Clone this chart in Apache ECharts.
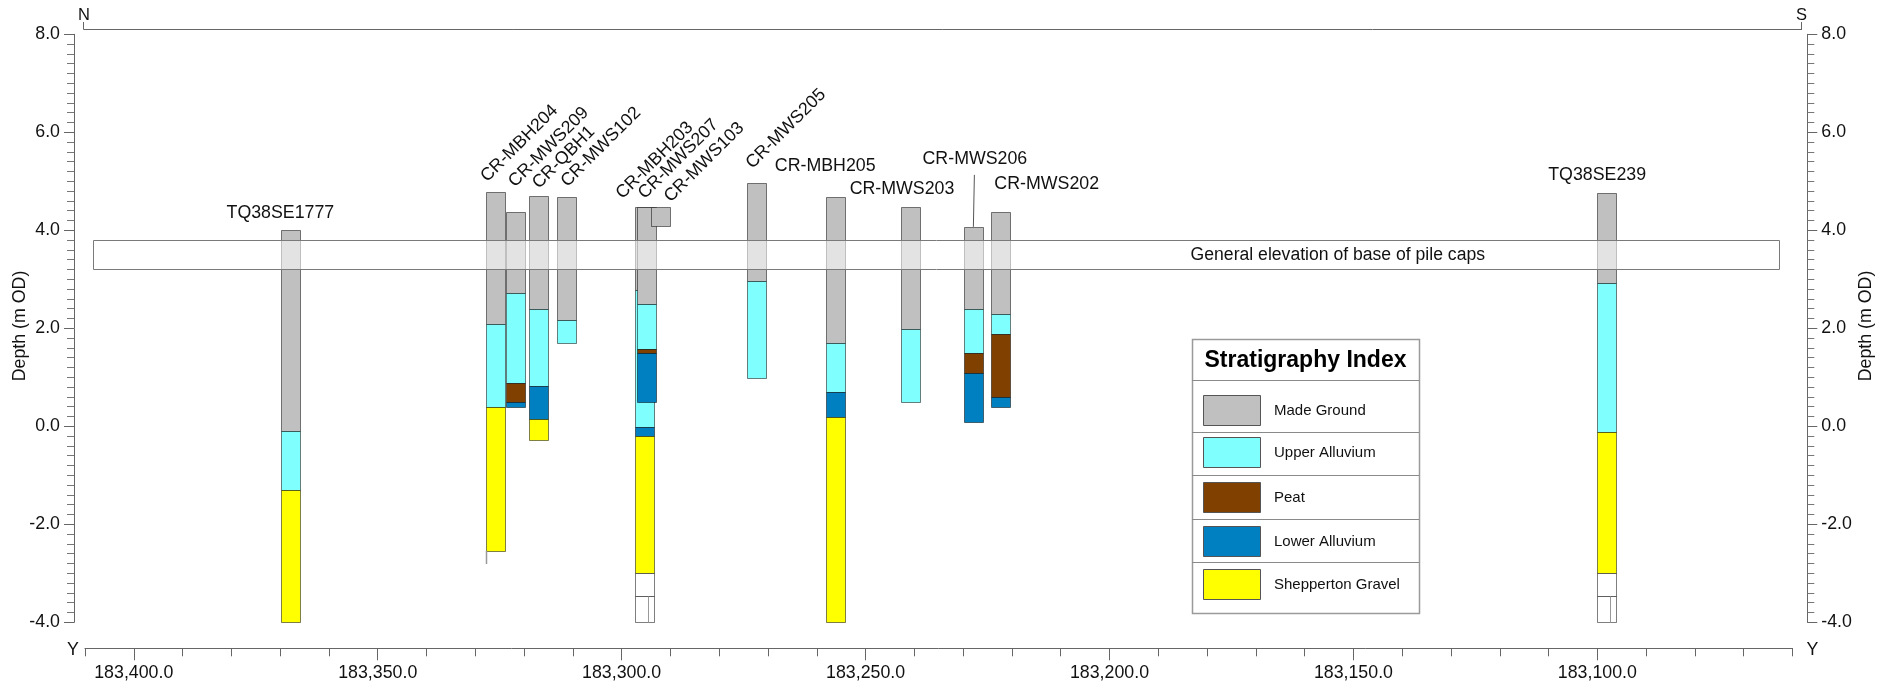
<!DOCTYPE html>
<html>
<head>
<meta charset="utf-8">
<title>Geological section N–S</title>
<script src="https://cdn.jsdelivr.net/npm/echarts@6/dist/echarts.min.js"></script>
<style>
  html, body { margin: 0; padding: 0; background: #fff; }
  #chart { width: 1894px; height: 687px; }
</style>
</head>
<body>
<div id="chart"></div>
<script>
// ---- Section data ---------------------------------------------------------
// Borehole names, in drawing order (later holes paint over earlier ones)
const boreholes = ['TQ38SE1777', 'CR-MBH204', 'CR-MWS209', 'CR-QBH1', 'CR-MWS102',
  'CR-MBH203', 'CR-MWS207', 'CR-MWS103', 'CR-MWS205', 'CR-MBH205', 'CR-MWS203',
  'CR-MWS206', 'CR-MWS202', 'TQ38SE239'];

// Northing (Y) of each borehole along the section line
const northing = [183367.9, 183325.8, 183321.9, 183317.1, 183311.3,
  183295.3, 183294.9, 183292.1, 183272.5, 183256.3, 183240.75,
  183227.9, 183222.3, 183098.1];

// Stratum boundary elevations (m OD), ground level first
const levels = [
  [4.00, -0.10, -1.30, -4.00],
  [4.78, 2.08, 0.39, -2.54],
  [4.38, 2.73, 0.89, 0.49, 0.39],
  [4.71, 2.39, 0.83, 0.14, -0.27],
  [4.67, 2.17, 1.69],
  [4.48, 2.78, -0.01, -0.20, -3.00, -3.46, -4.00],
  [4.48, 2.49, 1.58, 1.49, 0.49],
  [4.48, 4.09],
  [4.96, 2.97, 0.99],
  [4.67, 1.69, 0.69, 0.18, -4.00],
  [4.48, 1.98, 0.49],
  [4.07, 2.39, 1.49, 1.08, 0.08],
  [4.37, 2.29, 1.88, 0.59, 0.40],
  [4.76, 2.93, -0.11, -3.00, -3.46, -4.00]
];

// Stratum between each pair of boundaries
// MG made ground, UA upper alluvium, PT peat, LA lower alluvium,
// SG Shepperton Gravel, NR not recorded, PZ piezometer response zone
const units = [
  ['MG', 'UA', 'SG'],
  ['MG', 'UA', 'SG'],
  ['MG', 'UA', 'PT', 'LA'],
  ['MG', 'UA', 'LA', 'SG'],
  ['MG', 'UA'],
  ['MG', 'UA', 'LA', 'SG', 'NR', 'PZ'],
  ['MG', 'UA', 'PT', 'LA'],
  ['MG'],
  ['MG', 'UA'],
  ['MG', 'UA', 'LA', 'SG'],
  ['MG', 'UA'],
  ['MG', 'UA', 'PT', 'LA'],
  ['MG', 'UA', 'PT', 'LA'],
  ['MG', 'UA', 'SG', 'NR', 'PZ']
];

// Holes drilled on below the last logged stratum: [hole, base elevation]
const holeBases = [['CR-MBH204', -2.81]];

// Legend entries
const legendCodes = ['MG', 'UA', 'PT', 'LA', 'SG'];
const legendNames = ['Made Ground', 'Upper Alluvium', 'Peat', 'Lower Alluvium', 'Shepperton Gravel'];

// Pile cap design band
const pileCapLevels = [3.2, 3.8];
const pileCapExtent = [183408.3, 183062.8];
const pileCapLabelAt = 183153.2;
const pileCapText = 'General elevation of base of pile caps';

// Axis ticks and titles
const northingMajorTicks = [183100, 183150, 183200, 183250, 183300, 183350, 183400];
const depthTitle = 'Depth (m OD)';

// ---- Styling ---------------------------------------------------------------
const FONT = '"Liberation Sans", Arial, Helvetica, sans-serif';
const TXT = '#111';
const AXIS = '#666';
const COL_W = 18.6;
const COLORS = {
  MG: '#c0c0c0', UA: '#80ffff', PT: '#804000', LA: '#0080c0', SG: '#ffff00',
  NR: '#ffffff', PZ: '#ffffff'
};

// Name tag placement relative to the top centre of each hole (px)
const tagLayout = {
  'TQ38SE1777': { rotate: 0, dx: -10, dy: -17.5 },
  'CR-MBH204': { rotate: 45, dx: -5.7, dy: -6.7 },
  'CR-MWS209': { rotate: 45, dx: 3.2, dy: -21.1 },
  'CR-QBH1': { rotate: 45, dx: 3.7, dy: -3.4 },
  'CR-MWS102': { rotate: 45, dx: 3.8, dy: -7.1 },
  'CR-MBH203': { rotate: 45, dx: -19.2, dy: -4.4 },
  'CR-MWS207': { rotate: 45, dx: 1.2, dy: -4.4 },
  'CR-MWS103': { rotate: 45, dx: 13.4, dy: -1.1 },
  'CR-MWS205': { rotate: 45, dx: -0.5, dy: -11 },
  'CR-MBH205': { rotate: 0, dx: -9.6, dy: -31.2 },
  'CR-MWS203': { rotate: 0, dx: -8.7, dy: -17.8 },
  'CR-MWS206': { rotate: 0, dx: 1.5, dy: -68, leader: 52 },
  'CR-MWS202': { rotate: 0, dx: 46, dy: -28.2 },
  'TQ38SE239': { rotate: 0, dx: -9.5, dy: -17.8 }
};

const fmtNorthing = v => String(Math.round(v)).replace(/\B(?=(\d{3})+(?!\d))/g, ',') + '.0';
const snap = v => Math.round(v) + 0.5;

// ---- Series data built from the arrays above -------------------------------
const strataData = [];
boreholes.forEach((name, i) => {
  units[i].forEach((code, j) => {
    strataData.push([northing[i], levels[i][j], levels[i][j + 1], i, j]);
  });
});

const extensionData = holeBases.map(([name, base]) => {
  const i = boreholes.indexOf(name);
  return [northing[i], levels[i][levels[i].length - 1], base];
});

const tagData = boreholes.map((name, i) => [northing[i], levels[i][0], i]);

const bandData = [[pileCapExtent[0], pileCapExtent[1], pileCapLevels[0], pileCapLevels[1], pileCapLabelAt]];

// ---- Chart -------------------------------------------------------------------
const yAxisCommon = {
  type: 'value', min: -4, max: 8, interval: 2,
  axisLine: { show: true, lineStyle: { color: AXIS, width: 1 } },
  axisTick: { show: true, length: 10, lineStyle: { color: AXIS } },
  minorTick: { show: true, splitNumber: 10, length: 7, lineStyle: { color: '#777' } },
  axisLabel: { margin: 14, fontSize: 17.8, fontFamily: FONT, color: TXT, formatter: v => v.toFixed(1) },
  splitLine: { show: false }
};

const legendGraphics = (() => {
  const x0 = 1192, y0 = 339, w = 227, h = 274;
  const rowLines = [380, 431.7, 475, 518.7, 562.3];
  const rowMid = [410, 452.3, 496.7, 540.7, 584.3];
  const els = [
    { type: 'rect', shape: { x: x0 + 0.5, y: y0 + 0.5, width: w, height: h },
      style: { fill: '#fff', stroke: '#9a9a9a', lineWidth: 1.5 }, z: 10 },
    { type: 'text', x: x0 + w / 2, y: 361, z: 11,
      style: { text: 'Stratigraphy Index', font: 'bold 23px ' + FONT, fill: '#000',
        textAlign: 'center', textVerticalAlign: 'middle' } }
  ];
  rowLines.forEach(y => els.push({ type: 'line', z: 11,
    shape: { x1: x0, y1: snap(y), x2: x0 + w, y2: snap(y) }, style: { stroke: '#8a8a8a', lineWidth: 1 } }));
  legendCodes.forEach((code, k) => {
    els.push({ type: 'rect', z: 11,
      shape: { x: 1203.5, y: snap(rowMid[k] - 15), width: 57, height: 30 },
      style: { fill: COLORS[code], stroke: '#555', lineWidth: 1 } });
    els.push({ type: 'text', x: 1274, y: rowMid[k] + 1, z: 11,
      style: { text: legendNames[k], font: '15px ' + FONT, fill: '#111',
        textAlign: 'left', textVerticalAlign: 'middle' } });
  });
  return els;
})();

const frameGraphics = [
  { type: 'line', shape: { x1: 83.5, y1: 29.5, x2: 1802, y2: 29.5 }, style: { stroke: AXIS, lineWidth: 1 } },
  { type: 'line', shape: { x1: 83.5, y1: 22, x2: 83.5, y2: 29.5 }, style: { stroke: AXIS, lineWidth: 1 } },
  { type: 'line', shape: { x1: 1801.5, y1: 22, x2: 1801.5, y2: 29.5 }, style: { stroke: AXIS, lineWidth: 1 } },
  { type: 'text', x: 84, y: 15.5, style: { text: 'N', font: '16.5px ' + FONT, fill: TXT, textAlign: 'center', textVerticalAlign: 'middle' } },
  { type: 'text', x: 1801.5, y: 15.5, style: { text: 'S', font: '16.5px ' + FONT, fill: TXT, textAlign: 'center', textVerticalAlign: 'middle' } },
  { type: 'text', x: 73, y: 650, style: { text: 'Y', font: '17.8px ' + FONT, fill: TXT, textAlign: 'center', textVerticalAlign: 'middle' } },
  { type: 'text', x: 1812.5, y: 650, style: { text: 'Y', font: '17.8px ' + FONT, fill: TXT, textAlign: 'center', textVerticalAlign: 'middle' } },
  { type: 'text', x: 20.5, y: 326, rotation: Math.PI / 2,
    style: { text: depthTitle, font: '17.8px ' + FONT, fill: TXT, textAlign: 'center', textVerticalAlign: 'middle' } },
  { type: 'text', x: 1866, y: 326, rotation: Math.PI / 2,
    style: { text: depthTitle, font: '17.8px ' + FONT, fill: TXT, textAlign: 'center', textVerticalAlign: 'middle' } }
];

const option = {
  backgroundColor: '#ffffff',
  animation: false,
  grid: { left: 85, right: 101.5, top: 34.3, bottom: 64.7, containLabel: false, outerBoundsMode: 'none' },
  xAxis: [
    {
      type: 'value', min: 183060, max: 183410, interval: 10, inverse: true,
      position: 'bottom', offset: 26,
      axisLine: { show: true, onZero: false, lineStyle: { color: AXIS, width: 1 } },
      axisTick: { show: true, length: 8, lineStyle: { color: AXIS } },
      axisLabel: { interval: 0, margin: 16, fontSize: 17.8, fontFamily: FONT, color: TXT,
        formatter: v => (Math.round(v) % 50 === 0 ? fmtNorthing(v) : '') },
      splitLine: { show: false }
    },
    {
      type: 'value', min: 183060, max: 183410, inverse: true,
      position: 'bottom', offset: 26,
      axisLine: { show: false, onZero: false },
      axisTick: { show: true, length: 12, customValues: northingMajorTicks, lineStyle: { color: AXIS } },
      axisLabel: { show: false },
      splitLine: { show: false }
    }
  ],
  yAxis: [
    Object.assign({}, yAxisCommon, { position: 'left', offset: 11 }),
    Object.assign({}, yAxisCommon, { position: 'right', offset: 14.8 })
  ],
  graphic: frameGraphics.concat(legendGraphics),
  series: [
    {
      name: 'strata', type: 'custom', xAxisIndex: 0, yAxisIndex: 0, z: 2,
      encode: { x: 0, y: [1, 2] },
      data: strataData,
      renderItem: (params, api) => {
        const i = api.value(3), j = api.value(4);
        const code = units[i][j];
        const top = api.coord([api.value(0), api.value(1)]);
        const bot = api.coord([api.value(0), api.value(2)]);
        const x = snap(top[0] - COL_W / 2);
        const y1 = snap(top[1]);
        const y2 = snap(bot[1]);
        const w = Math.round(COL_W);
        const children = [{
          type: 'rect', shape: { x, y: y1, width: w, height: y2 - y1 },
          style: { fill: COLORS[code], stroke: 'rgba(0,0,0,0.5)', lineWidth: 1 }
        }];
        if (code === 'PZ') {
          const px = snap(x + w * 0.68);
          children.push({ type: 'line', shape: { x1: px, y1, x2: px, y2 },
            style: { stroke: '#999', lineWidth: 1 } });
        }
        return { type: 'group', children };
      }
    },
    {
      name: 'hole base', type: 'custom', xAxisIndex: 0, yAxisIndex: 0, z: 2,
      encode: { x: 0, y: [1, 2] },
      data: extensionData,
      renderItem: (params, api) => {
        const a = api.coord([api.value(0), api.value(1)]);
        const b = api.coord([api.value(0), api.value(2)]);
        const x = snap(a[0] - COL_W / 2);
        return { type: 'line', shape: { x1: x, y1: a[1], x2: x, y2: b[1] },
          style: { stroke: '#999', lineWidth: 1.5 } };
      }
    },
    {
      name: 'pile caps', type: 'custom', xAxisIndex: 0, yAxisIndex: 0, z: 3,
      encode: { x: [0, 1], y: [2, 3] },
      data: bandData,
      renderItem: (params, api) => {
        const a = api.coord([api.value(0), api.value(3)]);
        const b = api.coord([api.value(1), api.value(2)]);
        const c = api.coord([api.value(4), (api.value(2) + api.value(3)) / 2]);
        return {
          type: 'group', children: [
            { type: 'rect', shape: { x: snap(a[0]), y: snap(a[1]), width: Math.round(b[0] - a[0]), height: Math.round(b[1] - a[1]) },
              style: { fill: 'rgba(255,255,255,0.56)', stroke: '#7a7a7a', lineWidth: 1 } },
            { type: 'text', x: c[0], y: c[1],
              style: { text: pileCapText, font: '17.6px ' + FONT, fill: TXT,
                textAlign: 'center', textVerticalAlign: 'middle' } }
          ]
        };
      }
    },
    {
      name: 'hole names', type: 'custom', xAxisIndex: 0, yAxisIndex: 0, z: 4,
      encode: { x: 0, y: 1 },
      data: tagData,
      renderItem: (params, api) => {
        const i = api.value(2);
        const name = boreholes[i];
        const lay = tagLayout[name];
        const p = api.coord([api.value(0), api.value(1)]);
        const children = [];
        if (lay.rotate) {
          children.push({ type: 'text', x: p[0] + lay.dx, y: p[1] + lay.dy,
            rotation: lay.rotate * Math.PI / 180,
            style: { text: name, font: '17.8px ' + FONT, fill: TXT,
              textAlign: 'left', textVerticalAlign: 'bottom' } });
        } else {
          children.push({ type: 'text', x: p[0] + lay.dx, y: p[1] + lay.dy,
            style: { text: name, font: '17.8px ' + FONT, fill: TXT,
              textAlign: 'center', textVerticalAlign: 'middle' } });
        }
        if (lay.leader) {
          children.push({ type: 'line',
            shape: { x1: p[0] + 1, y1: p[1] - lay.leader, x2: p[0], y2: p[1] },
            style: { stroke: '#555', lineWidth: 1 } });
        }
        return { type: 'group', children };
      }
    }
  ]
};

const chart = echarts.init(document.getElementById('chart'), null, { renderer: 'canvas' });
chart.setOption(option);
</script>
</body>
</html>
